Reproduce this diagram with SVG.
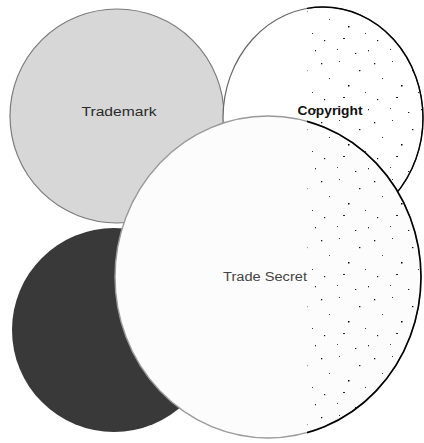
<svg xmlns="http://www.w3.org/2000/svg" width="424" height="443" viewBox="0 0 424 443">
  <style>
    .lbl { font-family: "Liberation Sans", Arial, sans-serif; text-anchor: middle; }
  </style>
  <defs>
    <pattern id="speck" width="53" height="59" patternUnits="userSpaceOnUse">
      <rect x="3" y="4" width="1.3" height="1.3" fill="#111"/>
      <rect x="21" y="2" width="1" height="1" fill="#333"/>
      <rect x="41" y="11" width="1.4" height="1.2" fill="#111"/>
      <rect x="11" y="19" width="1" height="1" fill="#444"/>
      <rect x="30" y="26" width="1.5" height="1.5" fill="#000"/>
      <rect x="47" y="33" width="1" height="1" fill="#333"/>
      <rect x="6" y="40" width="1.2" height="1.2" fill="#111"/>
      <rect x="19" y="49" width="1" height="1" fill="#444"/>
      <rect x="37" y="53" width="1.3" height="1" fill="#111"/>
      <rect x="25" y="38" width="2" height="1" fill="#222"/>
      <rect x="50" y="50" width="1" height="1.3" fill="#222"/>
    </pattern>
    <clipPath id="rightHalf">
      <rect x="307" y="0" width="117" height="443"/>
    </clipPath>
    <clipPath id="speckArea">
      <ellipse cx="323" cy="118" rx="100" ry="111"/>
      <ellipse cx="268" cy="277" rx="153" ry="161"/>
    </clipPath>
  </defs>

  <rect width="424" height="443" fill="#ffffff"/>

  <g id="trademark">
    <circle cx="117" cy="116" r="107" fill="#d7d7d7" stroke="#7a7a7a" stroke-width="1.2"/>
    <text class="lbl" x="119" y="116" font-size="12" fill="#2a2a2a" textLength="75" lengthAdjust="spacingAndGlyphs">Trademark</text>
  </g>

  <g id="copyright">
    <ellipse cx="323" cy="118" rx="100" ry="111" fill="#ffffff" stroke="#666" stroke-width="1.2"/>
    <ellipse cx="323" cy="118" rx="100" ry="111" fill="none" stroke="#000" stroke-width="1.4" clip-path="url(#rightHalf)"/>
    <text class="lbl" x="330" y="115" font-size="13" font-weight="bold" fill="#111" textLength="65" lengthAdjust="spacingAndGlyphs">Copyright</text>
  </g>

  <g id="dark">
    <circle cx="114" cy="330" r="102" fill="#393939"/>
  </g>

  <g id="trade-secret">
    <ellipse cx="268" cy="277" rx="153" ry="161" fill="#fcfcfc" stroke="#999" stroke-width="1.4"/>
    <ellipse cx="268" cy="277" rx="153" ry="161" fill="none" stroke="#000" stroke-width="1.6" clip-path="url(#rightHalf)"/>
    <text class="lbl" x="265" y="281" font-size="12" fill="#444" textLength="84" lengthAdjust="spacingAndGlyphs">Trade Secret</text>
  </g>

  <g id="speckle" clip-path="url(#speckArea)">
    <rect x="307" y="0" width="117" height="443" fill="url(#speck)" clip-path="url(#rightHalf)"/>
  </g>

  <g id="connectors"/>
</svg>
